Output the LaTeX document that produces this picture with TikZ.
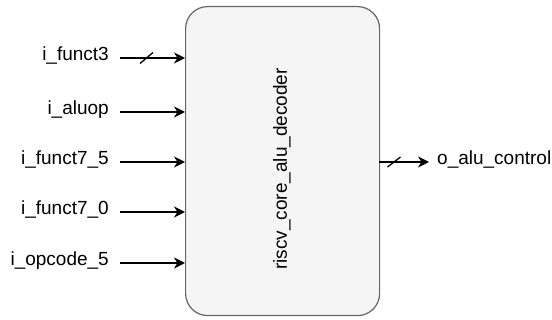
\documentclass[tikz,border=0pt]{standalone}
\usepackage{fontspec}
\setmainfont{Liberation Sans}
\usetikzlibrary{arrows.meta}
\tikzset{
  sig/.style={line width=1.6pt, -{Stealth[length=11pt,width=11pt,inset=3.5pt]}},
  bus/.style={line width=1.3pt},
  lbl/.style={font=\fontsize{19}{22}\selectfont, inner sep=0pt},
  block/.style={draw=black!60, fill=black!4, line width=1.2pt, rounded corners=22pt}
}
\begin{document}
\begin{tikzpicture}[x=1pt, y=-1pt]
  \useasboundingbox (0,0) rectangle (552,320);
  % decoder block
  \node[block, minimum width=194pt, minimum height=309pt, anchor=north west] (dec) at (185,6) {};
  \node[lbl, rotate=90] (decname) at (282,169) {riscv\_core\_alu\_decoder};

  % input ports
  \foreach \name/\txt/\y in {f3/i\_funct3/58, aluop/i\_aluop/112, f75/i\_funct7\_5/162, f70/i\_funct7\_0/212, opc/i\_opcode\_5/263} {
    \node[lbl, anchor=east] (l\name) at (109,\y-2) {\strut\txt};
    \coordinate (s\name) at (120,\y);
    \draw[sig] (s\name) -- (s\name -| dec.west);
  }
  % bus marker on i_funct3
  \coordinate (bf3) at (146.5,58);
  \draw[bus] ([shift={(-6.5,5.5)}]bf3) -- ([shift={(6.5,-5.5)}]bf3);

  % output port
  \coordinate (oa) at (379,162);
  \coordinate (oe) at (429,162);
  \node[lbl, anchor=west] (lout) at (437,160) {\strut o\_alu\_control};
  \draw[sig] (oa) -- (oe);
  \coordinate (bout) at (394,162);
  \draw[bus] ([shift={(-6.5,5)}]bout) -- ([shift={(6.5,-5)}]bout);
\end{tikzpicture}
\end{document}
